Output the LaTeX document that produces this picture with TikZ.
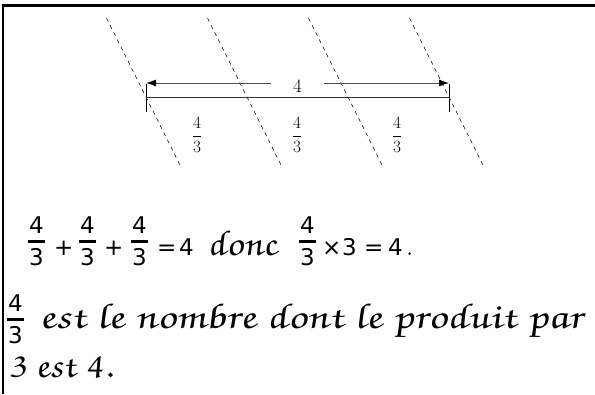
\documentclass[tikz,border=0pt]{standalone}
\usepackage[T1,TU]{fontenc}
\usepackage{fontspec}
\usepackage{graphicx}
\usetikzlibrary{arrows.meta}
\newfontfamily\djsans{DejaVu Sans}
\newcommand\cursivefont{\fontencoding{T1}\fontfamily{pzc}\fontseries{mb}\fontshape{it}\selectfont}
\newcommand\myfrac[2]{\vbox{\offinterlineskip\halign{\hskip1pt\hfil##\hfil\hskip1pt\cr#1\cr\noalign{\kern6pt\hrule height3pt\kern5pt}#2\cr}}}
\begin{document}
\begin{tikzpicture}[x=1pt,y=-1pt,
  mathtxt/.style={font=\djsans\fontsize{23}{28}\selectfont, inner sep=0pt, anchor=base west},
  curtxt/.style={font=\cursivefont\fontsize{36}{42}\selectfont, inner sep=0pt, anchor=base west, xslant=-0.18, transform shape},
  dashline/.style={dash pattern=on 4pt off 4pt, line width=0.5pt},
  ticks/.style={line width=0.7pt},
  seg/.style={line width=0.6pt, black!80},
  arr/.style={line width=0.9pt, black!70, -{Latex[length=10pt,width=7pt,color=black]}},
  small/.style={font=\fontsize{19}{23}\selectfont, inner sep=0pt}
  ]
\useasboundingbox (0,0) rectangle (595,394);
\fill[white] (0,0) rectangle (595,394);
\draw[line width=2.7pt] (1.5,5.3) -- (595,5.3);
\draw[line width=2pt] (3,4) -- (3,394);

\foreach \i/\xc in {1/146,2/247,3/348,4/449} {
  \coordinate (dt\i) at (\xc-39.5,18);
  \coordinate (db\i) at (\xc+35.5,168);
  \draw[dashline] (dt\i) -- (db\i);
}

\coordinate (L) at (146,97); \coordinate (R) at (449,97);
\coordinate (Lt) at (146,84); \coordinate (Lb) at (146,112);
\coordinate (Rt) at (449,84); \coordinate (Rb) at (449,112);
\draw[ticks] (Lt) -- (Lb);
\draw[ticks] (Rt) -- (Rb);
\draw[seg] (L) -- (R);
\node[small, inner xsep=21.5pt, inner ysep=1pt] (four) at (297.5,86) {4};
\coordinate (La) at (146,83); \coordinate (Ra) at (449,83);
\draw[arr] (four.west |- La) -- (La);
\draw[arr] (four.east |- Ra) -- (Ra);

\node[small] (q1) at (197,135) {$\displaystyle\frac{4}{3}$};
\node[small] (q2) at (297,135) {$\displaystyle\frac{4}{3}$};
\node[small] (q3) at (397,135) {$\displaystyle\frac{4}{3}$};

\node[mathtxt] (f1) at (28,265) {\myfrac{4}{3}};
\node[mathtxt] (p1) at (54,255) {+};
\node[mathtxt] (f2) at (79,265) {\myfrac{4}{3}};
\node[mathtxt] (p2) at (104,255) {+};
\node[mathtxt] (f3) at (131,265) {\myfrac{4}{3}};
\node[mathtxt] (e1) at (157,255) {=};
\node[mathtxt] (n1) at (179,255) {4};
\begin{scope}[shift={(208,255)}]
\node[curtxt] (donc) at (0,0) {\resizebox{70pt}{\height}{donc}};
\end{scope}
\node[mathtxt] (f4) at (299,265) {\myfrac{4}{3}};
\node[mathtxt] (x1) at (322,255) {×};
\node[mathtxt] (n2) at (342,255) {3};
\node[mathtxt] (e2) at (364,255) {=};
\node[mathtxt] (n3) at (388,255) {4\hspace{3pt}{\cursivefont .}};

\node[mathtxt] (f5) at (7,343) {\myfrac{4}{3}};
\begin{scope}[shift={(40,328)}]
\node[curtxt] (l2) at (0,0) {\resizebox{543pt}{\height}{est le nombre dont le produit par}};
\end{scope}
\begin{scope}[shift={(9,377)}]
\node[curtxt] (l3) at (0,0) {\resizebox{104pt}{\height}{3 est 4.}};
\end{scope}
\end{tikzpicture}
\end{document}
